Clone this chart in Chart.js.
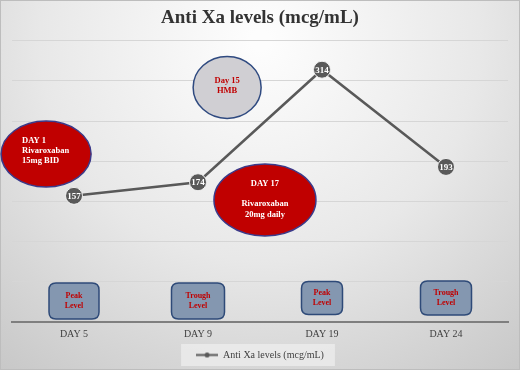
<!DOCTYPE html>
<html>
<head>
<meta charset="utf-8">
<script src="https://cdn.jsdelivr.net/npm/chart.js@4.4.1/dist/chart.umd.min.js"></script>
<style>
  html, body { margin: 0; padding: 0; background: #fff; }
  #wrap { width: 520px; height: 370px; position: relative; }
</style>
</head>
<body>
<div id="wrap"><canvas id="chart" width="520" height="370"></canvas></div>
<script>
// chart values
var days = ['DAY 5', 'DAY 9', 'DAY 19', 'DAY 24'];
var antiXa = [157, 174, 314, 193];
var levelType = [['Peak', 'Level'], ['Trough', 'Level'], ['Peak', 'Level'], ['Trough', 'Level']];
var yTicks = [0, 50, 100, 150, 200, 250, 300, 350];

// callouts, placed in scale units (x = category index, y = value)
var callouts = [
  { x: -0.225, y: 209, rx: 45, ry: 33, fill: '#c00000', stroke: '#3b3a8a', color: '#fff', align: 'left', tx: -24,
    lines: [['DAY 1', -13], ['Rivaroxaban', -3], ['15mg BID', 7]] },
  { x: 1.235, y: 292, rx: 34, ry: 31, fill: '#d0cfd3', stroke: '#2f4a80', color: '#c00000', align: 'center', tx: 0,
    lines: [['Day 15', -7], ['HMB', 3]] },
  { x: 1.54, y: 152, rx: 51, ry: 36, fill: '#c00000', stroke: '#3b3a8a', color: '#fff', align: 'center', tx: 0,
    lines: [['DAY 17', -16], ['Rivaroxaban', 4], ['20mg daily', 15]] }
];
var boxLevels = [26, 26, 30, 30];
var boxSizes = [[50, 36], [53, 36], [41, 33], [51, 34]];

var lineColor = '#595959';
var serif = '"Liberation Serif", "Times New Roman", serif';

// legend marker: small line with a dot
var marker = document.createElement('canvas');
marker.width = 22; marker.height = 7;
(function() {
  var c = marker.getContext('2d');
  c.strokeStyle = lineColor; c.lineWidth = 2;
  c.beginPath(); c.moveTo(0, 3.5); c.lineTo(22, 3.5); c.stroke();
  c.fillStyle = lineColor;
  c.beginPath(); c.arc(11, 3.5, 2.5, 0, Math.PI * 2); c.fill();
})();

function roundRect(ctx, x, y, w, h, r) {
  ctx.beginPath();
  ctx.moveTo(x + r, y);
  ctx.lineTo(x + w - r, y);
  ctx.quadraticCurveTo(x + w, y, x + w, y + r);
  ctx.lineTo(x + w, y + h - r);
  ctx.quadraticCurveTo(x + w, y + h, x + w - r, y + h);
  ctx.lineTo(x + r, y + h);
  ctx.quadraticCurveTo(x, y + h, x, y + h - r);
  ctx.lineTo(x, y + r);
  ctx.quadraticCurveTo(x, y, x + r, y);
  ctx.closePath();
}

var decorPlugin = {
  id: 'decor',
  beforeDraw: function(chart) {
    var ctx = chart.ctx, w = chart.width, h = chart.height;
    ctx.save();
    var g = ctx.createRadialGradient(w / 2, 40, 10, w / 2, 40, 430);
    g.addColorStop(0, '#fdfdfd');
    g.addColorStop(0.5, '#e8e8e8');
    g.addColorStop(1, '#c6c6c6');
    ctx.fillStyle = g;
    ctx.fillRect(0, 0, w, h);
    ctx.strokeStyle = '#bdbdbd';
    ctx.lineWidth = 1;
    ctx.strokeRect(0.5, 0.5, w - 1, h - 1);
    // legend background
    var lg = chart.legend;
    if (lg && lg.legendHitBoxes && lg.legendHitBoxes.length) {
      var hb = lg.legendHitBoxes[0];
      ctx.fillStyle = 'rgba(240,240,240,0.7)';
      ctx.fillRect(hb.left - 15, hb.top + hb.height / 2 - 11, hb.width + 26, 22);
    }
    ctx.restore();
  },
  beforeDatasetsDraw: function(chart) {
    var ctx = chart.ctx, xs = chart.scales.x, ys = chart.scales.y;
    ctx.save();
    callouts.forEach(function(c) {
      var cx = xs.getPixelForValue(c.x), cy = ys.getPixelForValue(c.y);
      ctx.beginPath();
      ctx.ellipse(cx, cy, c.rx, c.ry, 0, 0, Math.PI * 2);
      ctx.fillStyle = c.fill; ctx.fill();
      ctx.lineWidth = 1.5; ctx.strokeStyle = c.stroke; ctx.stroke();
      ctx.fillStyle = c.color;
      ctx.font = 'bold 8.5px ' + serif;
      ctx.textAlign = c.align;
      ctx.textBaseline = 'middle';
      c.lines.forEach(function(l) {
        ctx.fillText(l[0], cx + c.tx, cy + l[1]);
      });
    });
    levelType.forEach(function(lines, i) {
      var bw = boxSizes[i][0], bh = boxSizes[i][1];
      var cx = xs.getPixelForValue(i), cy = ys.getPixelForValue(boxLevels[i]);
      roundRect(ctx, cx - bw / 2, cy - bh / 2, bw, bh, 7);
      ctx.fillStyle = '#8497b0'; ctx.fill();
      ctx.lineWidth = 1.5; ctx.strokeStyle = '#2e4a78'; ctx.stroke();
      ctx.fillStyle = '#c00000';
      ctx.font = 'bold 8px ' + serif;
      ctx.textAlign = 'center';
      ctx.textBaseline = 'middle';
      ctx.fillText(lines[0], cx, cy - 5);
      ctx.fillText(lines[1], cx, cy + 5);
    });
    ctx.restore();
  },
  afterDatasetsDraw: function(chart) {
    var ctx = chart.ctx, meta = chart.getDatasetMeta(0);
    ctx.save();
    ctx.fillStyle = '#fff';
    ctx.font = 'bold 9px ' + serif;
    ctx.textAlign = 'center';
    ctx.textBaseline = 'middle';
    meta.data.forEach(function(pt, i) {
      ctx.fillText(String(antiXa[i]), pt.x, pt.y + 0.5);
    });
    ctx.restore();
  }
};

new Chart(document.getElementById('chart'), {
  type: 'line',
  data: {
    labels: days,
    datasets: [{
      label: 'Anti Xa levels (mcg/mL)',
      data: antiXa,
      borderColor: lineColor,
      borderWidth: 2.5,
      backgroundColor: lineColor,
      pointRadius: 8.5,
      pointHoverRadius: 8.5,
      pointBackgroundColor: lineColor,
      pointBorderColor: '#f0f0f0',
      pointBorderWidth: 1,
      pointStyle: 'circle',
      tension: 0
    }]
  },
  options: {
    responsive: false,
    animation: false,
    layout: { padding: { left: 12, right: 12, top: 0, bottom: 0 } },
    plugins: {
      title: {
        display: true,
        text: 'Anti Xa levels (mcg/mL)',
        color: '#333333',
        font: { family: serif, size: 19, weight: 'bold' },
        padding: { top: 7, bottom: 11 }
      },
      legend: {
        position: 'bottom',
        labels: {
          usePointStyle: true,
          pointStyle: marker,
          pointStyleWidth: 22,
          color: '#404040',
          font: { family: serif, size: 10 },
          padding: 4
        }
      },
      tooltip: { enabled: false }
    },
    scales: {
      x: {
        offset: true,
        grid: { display: false, drawTicks: false },
        border: { display: true, color: '#7f7f7f', width: 2 },
        ticks: { color: '#404040', font: { family: serif, size: 10 }, padding: 6 }
      },
      y: {
        min: 0,
        max: 350,
        afterBuildTicks: function(axis) { axis.ticks = yTicks.map(function(v) { return { value: v }; }); },
        ticks: { display: false },
        grid: { color: '#d6d6d6', lineWidth: 1, drawTicks: false },
        border: { display: false }
      }
    }
  },
  plugins: [decorPlugin]
});
</script>
</body>
</html>
